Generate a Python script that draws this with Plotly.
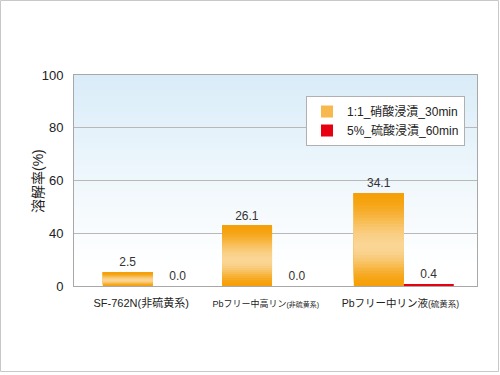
import math
import plotly.graph_objects as go

# ---- data ----
categories = ["SF-762N(非硫黄系)", "Pbフリー中高リン(非硫黄系)", "Pbフリー中リン液(硫黄系)"]
tick_labels = [
    "<span style='font-size:11px'>SF-762N(非硫黄系)</span>",
    "<span style='font-size:9px'>Pbフリー中高リン</span><span style='font-size:7px'>(非硫黄系)"
    + "&nbsp;" * 10 + "</span>",
    "<span style='font-size:10.5px'>Pbフリー中リン液</span><span style='font-size:8.5px'>(硫黄系)"
    + "&nbsp;" * 8 + "</span>",
]
series_names = ["1:1_硝酸浸漬_30min", "5%_硫酸浸漬_60min"]
nitric_heights = [5.1, 22.9, 35.3]          # drawn bar heights (axis units)
nitric_labels = ["2.5", "26.1", "34.1"]
sulfuric_heights = [0.0, 0.0, 0.5]
sulfuric_labels = ["0.0", "0.0", "0.4"]
y_tick_vals = [0, 20, 40, 60, 80]
y_tick_text = ["0", "40", "60", "80", "100"]
y_title = "溶解率(%)"

FONT = "Liberation Sans, Arial, Noto Sans CJK JP, sans-serif"
ORANGE = (245, 160, 8)
LIGHT = (250, 213, 148)
RED = "#e60012"
BAR_W = 0.372
GROUP_SHIFT = [0.087, -0.026, -0.045]   # horizontal nudge of each bar pair

def mix(a, b, t):
    return "rgb(%d,%d,%d)" % tuple(round(a[i] + (b[i] - a[i]) * t) for i in range(3))

fig = go.Figure()

# orange bars drawn as overlapping gradient slices (relative to each bar's height)
N = 30
for i in range(N):
    f0 = i / N
    fm = (i + 0.5) / N
    d = abs(fm - 0.42) / (0.42 if fm < 0.42 else 0.58)
    w = 0.5 * (1 + math.cos(math.pi * min(d, 1)))
    top = i == N - 1
    fig.add_trace(go.Bar(
        x=categories,
        y=[v * (1 - f0) for v in nitric_heights],
        base=[v * f0 for v in nitric_heights],
        offset=[-BAR_W + s for s in GROUP_SHIFT], width=BAR_W,
        marker=dict(color=mix(ORANGE, LIGHT, w), line=dict(width=0)),
        showlegend=False, hoverinfo="skip",
        text=nitric_labels if top else None,
        textposition="outside" if top else "none",
        textfont=dict(size=12, color="#333333", family=FONT),
        cliponaxis=False,
    ))

# legend entry for the orange series
fig.add_trace(go.Bar(
    x=[None], y=[None], name=series_names[0],
    marker=dict(color="rgb(247,184,78)", line=dict(width=0)),
))

# red bars
fig.add_trace(go.Bar(
    x=categories, y=sulfuric_heights, name=series_names[1],
    offset=[s for s in GROUP_SHIFT], width=BAR_W,
    marker=dict(color=RED, line=dict(width=0)),
    text=sulfuric_labels, textposition="outside",
    textfont=dict(size=12, color="#333333", family=FONT),
    cliponaxis=False,
))

# plot background gradient (light blue at top fading to white)
shapes = []
M = 40
TOPC = (217, 236, 248)
WHITE = (255, 255, 255)
for i in range(M):
    y0, y1 = i / M, (i + 1) / M
    t = max(0.0, ((y0 + y1) / 2 - 0.08) / 0.92)
    shapes.append(dict(type="rect", xref="paper", yref="paper", x0=0, x1=1,
                       y0=y0, y1=y1 + 0.003, fillcolor=mix(WHITE, TOPC, t ** 1.1),
                       line=dict(width=0), layer="below"))

# outer frame of the image
L, R, T, B = 74, 23, 75, 89
PW, PH = 500 - L - R, 375 - T - B
shapes.append(dict(type="rect", xref="paper", yref="paper",
                   x0=(0.5 - L) / PW, x1=(498.5 - L) / PW,
                   y0=(375 - B - 371.5) / PH, y1=(375 - B - 0.5) / PH,
                   line=dict(color="#c8c8c8", width=1), fillcolor="rgba(0,0,0,0)"))

fig.update_layout(
    width=500, height=375,
    margin=dict(l=L, r=R, t=T, b=B),
    paper_bgcolor="white", plot_bgcolor="white",
    barmode="overlay",
    font=dict(family=FONT, size=12, color="#222222"),
    shapes=shapes,
    showlegend=True,
    legend=dict(x=(306 - L) / PW, y=(375 - B - 96) / PH, xanchor="left", yanchor="top",
                bgcolor="white", bordercolor="#b0b0b0", borderwidth=1,
                font=dict(size=12, color="#222222", family=FONT),
                traceorder="normal", itemwidth=30),
    xaxis=dict(type="category", tickvals=categories, ticktext=tick_labels,
               range=[-0.5, 2.5], showgrid=False, showline=True, mirror=True,
               linecolor="#a8a8a8", linewidth=1, ticks="outside", ticklen=6,
               tickcolor="rgba(0,0,0,0)", tickfont=dict(size=12, color="#222222")),
    yaxis=dict(range=[0, 80], tickvals=y_tick_vals, ticktext=y_tick_text,
               showgrid=True, gridcolor="#b8b8b8", gridwidth=1, zeroline=False,
               showline=True, mirror=True, linecolor="#a8a8a8", linewidth=1,
               ticks="outside", ticklen=7, tickcolor="rgba(0,0,0,0)",
               tickfont=dict(size=13, color="#222222")),
    annotations=[dict(text=y_title, textangle=-90, xref="paper", yref="paper",
                      x=(28 - L) / PW, y=(375 - B - 181) / PH, showarrow=False,
                      font=dict(size=14, color="#222222", family=FONT))],
)

fig.write_html("out.html", config={"displayModeBar": False},
               post_script="document.body.style.margin='0px';document.body.style.overflow='hidden';")
